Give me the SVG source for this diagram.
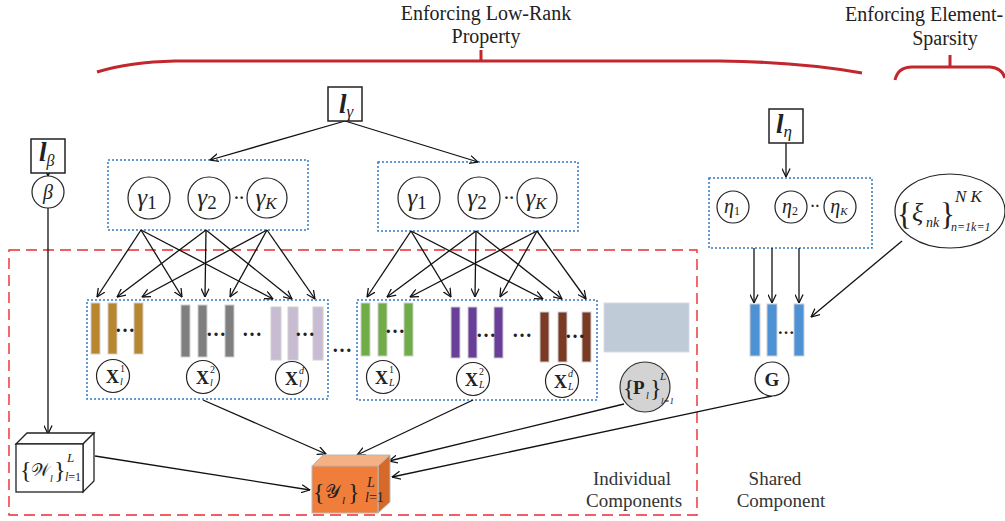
<svg xmlns="http://www.w3.org/2000/svg" width="1005" height="521" viewBox="0 0 1005 521">
<defs>
<marker id="arr" viewBox="0 0 10 10" refX="9.5" refY="5" markerWidth="9" markerHeight="9" markerUnits="userSpaceOnUse" orient="auto">
<path d="M0,0.5 L9.5,5 L0,9.5" fill="none" stroke="#111" stroke-width="1.4"/>
</marker>
<style>
text{font-family:"Liberation Serif","DejaVu Serif",serif;fill:#222}
.lbl{font-size:19px;fill:#333}
.box{fill:#fff;stroke:#222;stroke-width:1.5}
.circ{fill:#fff;stroke:#222;stroke-width:1.2}
.dot{fill:none;stroke:#2e7bc4;stroke-width:1.5;stroke-dasharray:2 2}
.red{fill:none;stroke:#ec2b2f;stroke-width:1.4;stroke-dasharray:11 6}
.brace{fill:none;stroke:#c1272d;stroke-width:3}
.e{fill:none;stroke:#111;stroke-width:1.3;marker-end:url(#arr)}
.bar{stroke:#d0d0d0;stroke-width:1}
.it{font-style:italic}
.b{font-weight:bold}
.ell{font-size:20px;font-weight:bold}
</style>
</defs>

<g id="low-rank-brace">
<path class="brace" d="M97,72 Q130,62 175,61 L720,61 Q800,62 862,73"/>
<line class="brace" x1="481" y1="50" x2="481" y2="61"/>
<text x="486" y="20" font-size="20" text-anchor="middle" fill="#333">Enforcing Low-Rank</text>
<text x="486" y="43" font-size="20" text-anchor="middle" fill="#333">Property</text>
</g>
<g id="sparsity-brace">
<path class="brace" d="M895,80 Q898,67 912,67 L990,67 Q1002,68 1005,78"/>
<line class="brace" x1="950" y1="55" x2="950" y2="67"/>
<text x="845" y="21" font-size="20" fill="#333">Enforcing Element-</text>
<text x="945" y="45" font-size="20" text-anchor="middle" fill="#333">Sparsity</text>
</g>

<rect class="red" x="9" y="250" width="688" height="265"/>
<rect class="dot" x="108" y="160" width="200" height="70"/>
<rect class="dot" x="378" y="162" width="200" height="69"/>
<rect class="dot" x="709" y="178" width="163" height="70"/>
<rect class="dot" x="87" y="300" width="241" height="99"/>
<rect class="dot" x="357" y="300" width="240" height="100"/>

<g id="connectors">
<line class="e" x1="345" y1="121" x2="210" y2="160"/>
<line class="e" x1="345" y1="121" x2="478" y2="162"/>
<line class="e" x1="48" y1="173" x2="48" y2="176"/>
<line class="e" x1="48" y1="208" x2="48" y2="434"/>
<line class="e" x1="786" y1="143" x2="786" y2="177"/>
<line class="e" x1="141" y1="230" x2="97" y2="297"/>
<line class="e" x1="141" y1="230" x2="182" y2="297"/>
<line class="e" x1="141" y1="230" x2="273" y2="299"/>
<line class="e" x1="206" y1="230" x2="117" y2="297"/>
<line class="e" x1="206" y1="230" x2="205" y2="297"/>
<line class="e" x1="206" y1="230" x2="292" y2="299"/>
<line class="e" x1="267" y1="230" x2="142" y2="297"/>
<line class="e" x1="267" y1="230" x2="230" y2="297"/>
<line class="e" x1="267" y1="230" x2="315" y2="299"/>
<line class="e" x1="411" y1="231" x2="367" y2="297"/>
<line class="e" x1="411" y1="231" x2="451" y2="297"/>
<line class="e" x1="411" y1="231" x2="543" y2="299"/>
<line class="e" x1="476" y1="231" x2="387" y2="297"/>
<line class="e" x1="476" y1="231" x2="475" y2="297"/>
<line class="e" x1="476" y1="231" x2="562" y2="299"/>
<line class="e" x1="537" y1="231" x2="410" y2="297"/>
<line class="e" x1="537" y1="231" x2="500" y2="297"/>
<line class="e" x1="537" y1="231" x2="586" y2="299"/>
<line class="e" x1="754" y1="248" x2="754" y2="303"/>
<line class="e" x1="772" y1="248" x2="772" y2="303"/>
<line class="e" x1="799" y1="248" x2="799" y2="303"/>
<line class="e" x1="902" y1="241" x2="811" y2="317"/>
<line class="e" x1="95" y1="456" x2="310" y2="490"/>
<line class="e" x1="203" y1="400" x2="326" y2="454"/>
<line class="e" x1="473" y1="400" x2="357" y2="455"/>
<line class="e" x1="624" y1="404" x2="389" y2="461"/>
<line class="e" x1="772" y1="396" x2="392" y2="477"/>
</g>

<g id="l-gamma">
<rect class="box" x="328" y="87" width="34" height="34"/>
<text x="339" y="113" font-size="27" class="it b">l<tspan font-size="17" font-weight="normal" dy="4">γ</tspan></text>
</g>
<g id="l-beta">
<rect class="box" x="31" y="139" width="34" height="34"/>
<text x="39" y="161" font-size="27" class="it b">l<tspan font-size="16" font-weight="normal" dy="5">β</tspan></text>
</g>
<g id="l-eta">
<rect class="box" x="769" y="109" width="34" height="34"/>
<text x="776" y="133" font-size="27" class="it b">l<tspan font-size="17" font-weight="normal" dy="4">η</tspan></text>
</g>

<g id="beta">
<circle class="circ" cx="48" cy="192" r="16"/>
<text x="48" y="199" font-size="20" class="it" text-anchor="middle">β</text>
</g>

<g id="gamma-left">
<circle class="circ" cx="149" cy="198" r="21"/>
<text x="147" y="206" font-size="25" class="it" text-anchor="middle">γ<tspan font-style="normal" font-size="19" dy="3">1</tspan></text>
<circle class="circ" cx="209" cy="198" r="21"/>
<text x="207" y="206" font-size="25" class="it" text-anchor="middle">γ<tspan font-style="normal" font-size="19" dy="3">2</tspan></text>
<text x="239" y="203" font-size="16" class="b" text-anchor="middle">··</text>
<circle class="circ" cx="267" cy="198" r="20"/>
<text x="266" y="206" font-size="25" class="it" text-anchor="middle">γ<tspan font-size="17" dy="3">K</tspan></text>
</g>
<g id="gamma-right">
<circle class="circ" cx="419" cy="198" r="21"/>
<text x="417" y="206" font-size="25" class="it" text-anchor="middle">γ<tspan font-style="normal" font-size="19" dy="3">1</tspan></text>
<circle class="circ" cx="479" cy="198" r="21"/>
<text x="477" y="206" font-size="25" class="it" text-anchor="middle">γ<tspan font-style="normal" font-size="19" dy="3">2</tspan></text>
<text x="509" y="203" font-size="16" class="b" text-anchor="middle">··</text>
<circle class="circ" cx="537" cy="198" r="20"/>
<text x="536" y="206" font-size="25" class="it" text-anchor="middle">γ<tspan font-size="17" dy="3">K</tspan></text>
</g>

<g id="eta">
<circle class="circ" cx="733" cy="207" r="16"/>
<text x="732" y="213" font-size="20" class="it" text-anchor="middle">η<tspan font-style="normal" font-size="12" dy="2">1</tspan></text>
<circle class="circ" cx="791" cy="207" r="16"/>
<text x="790" y="213" font-size="20" class="it" text-anchor="middle">η<tspan font-style="normal" font-size="12" dy="2">2</tspan></text>
<text x="815" y="211" font-size="14" class="b" text-anchor="middle">··</text>
<circle class="circ" cx="840" cy="207" r="16"/>
<text x="839" y="213" font-size="20" class="it" text-anchor="middle">η<tspan font-size="11" dy="2">K</tspan></text>
</g>

<g id="xi">
<ellipse class="circ" cx="950" cy="211" rx="55" ry="37"/>
<text x="897" y="225" font-size="31">{<tspan x="912" y="221" font-size="26" font-style="italic">ξ</tspan><tspan x="926" y="227" font-size="14" font-style="italic">nk</tspan><tspan x="940" y="225" font-size="31">}</tspan><tspan x="955" y="202" font-size="17" font-style="italic">N  K</tspan><tspan x="951" y="231" font-size="12" font-style="italic">n=1k=1</tspan></text>
</g>

<g id="X-left">
<rect class="bar" x="91" y="303" width="9" height="51" fill="#b8862e"/>
<rect class="bar" x="108" y="303" width="9" height="51" fill="#b8862e"/>
<rect class="bar" x="134" y="303" width="9" height="51" fill="#b8862e"/>
<text x="125" y="332" class="ell" text-anchor="middle">…</text>
<rect class="bar" x="181" y="305" width="9" height="52" fill="#7f7f7f"/>
<rect class="bar" x="198" y="305" width="9" height="52" fill="#7f7f7f"/>
<rect class="bar" x="225" y="305" width="9" height="52" fill="#7f7f7f"/>
<text x="216" y="336" class="ell" text-anchor="middle">…</text>
<text x="252" y="336" class="ell" text-anchor="middle">…</text>
<rect class="bar" x="271" y="307" width="10" height="53" fill="#c7bcd2"/>
<rect class="bar" x="288" y="307" width="10" height="53" fill="#c7bcd2"/>
<rect class="bar" x="313" y="307" width="10" height="53" fill="#c7bcd2"/>
<text x="305" y="336" class="ell" text-anchor="middle">…</text>
<circle class="circ" cx="113" cy="376" r="16.5"/>
<text x="106" y="383" font-size="18" class="b">X<tspan x="120" y="372" font-size="10" font-weight="normal">1</tspan><tspan x="120" y="385" font-size="10" font-weight="normal" font-style="italic">l</tspan></text>
<circle class="circ" cx="203" cy="377" r="16.5"/>
<text x="196" y="384" font-size="18" class="b">X<tspan x="210" y="373" font-size="10" font-weight="normal">2</tspan><tspan x="210" y="386" font-size="10" font-weight="normal" font-style="italic">l</tspan></text>
<circle class="circ" cx="292" cy="378" r="16.5"/>
<text x="285" y="385" font-size="18" class="b">X<tspan x="299" y="374" font-size="10" font-weight="normal" font-style="italic">d</tspan><tspan x="299" y="387" font-size="10" font-weight="normal" font-style="italic">l</tspan></text>
</g>

<text x="342" y="352" class="ell" text-anchor="middle">…</text>

<g id="X-right">
<rect class="bar" x="361" y="303" width="9" height="53" fill="#70ad47"/>
<rect class="bar" x="378" y="303" width="9" height="53" fill="#70ad47"/>
<rect class="bar" x="404" y="303" width="9" height="53" fill="#70ad47"/>
<text x="395" y="333" class="ell" text-anchor="middle">…</text>
<rect class="bar" x="451" y="307" width="9" height="51" fill="#6a3f9a"/>
<rect class="bar" x="468" y="307" width="9" height="51" fill="#6a3f9a"/>
<rect class="bar" x="494" y="307" width="9" height="51" fill="#6a3f9a"/>
<text x="486" y="337" class="ell" text-anchor="middle">…</text>
<text x="522" y="337" class="ell" text-anchor="middle">…</text>
<rect class="bar" x="540" y="312" width="9" height="50" fill="#7b3a24"/>
<rect class="bar" x="558" y="312" width="9" height="50" fill="#7b3a24"/>
<rect class="bar" x="582" y="312" width="9" height="50" fill="#7b3a24"/>
<text x="575" y="338" class="ell" text-anchor="middle">…</text>
<circle class="circ" cx="383" cy="377" r="16.5"/>
<text x="375" y="384" font-size="18" class="b">X<tspan x="389" y="373" font-size="10" font-weight="normal">1</tspan><tspan x="389" y="386" font-size="10" font-weight="normal" font-style="italic">L</tspan></text>
<circle class="circ" cx="473" cy="379" r="16.5"/>
<text x="465" y="386" font-size="18" class="b">X<tspan x="479" y="375" font-size="10" font-weight="normal">2</tspan><tspan x="479" y="388" font-size="10" font-weight="normal" font-style="italic">L</tspan></text>
<circle class="circ" cx="562" cy="381" r="16.5"/>
<text x="554" y="388" font-size="18" class="b">X<tspan x="568" y="377" font-size="10" font-weight="normal" font-style="italic">d</tspan><tspan x="568" y="390" font-size="10" font-weight="normal" font-style="italic">L</tspan></text>
</g>

<rect id="blue-block" x="604" y="303" width="85" height="49" fill="#bfccd8" stroke="#d4dbe3"/>

<g id="P">
<circle cx="645" cy="387" r="25" fill="#d3d3d3" stroke="#333" stroke-width="1.2"/>
<text x="623" y="396" font-size="24">{<tspan x="633" y="394" font-size="19" font-weight="bold">P</tspan><tspan x="646" y="399" font-size="10" font-style="italic">l</tspan><tspan x="650" y="396" font-size="24">}</tspan><tspan x="660" y="380" font-size="11" font-style="italic">L</tspan><tspan x="661" y="404" font-size="9" font-style="italic">l=1</tspan></text>
</g>

<g id="G">
<rect class="bar" x="750" y="304" width="10" height="52" fill="#4e92d6"/>
<rect class="bar" x="767" y="304" width="10" height="52" fill="#4e92d6"/>
<rect class="bar" x="794" y="304" width="10" height="52" fill="#4e92d6"/>
<text x="786" y="334" font-size="17" font-weight="bold" text-anchor="middle">…</text>
<circle class="circ" cx="772" cy="379" r="17"/>
<text x="772" y="386" font-size="19" class="b" text-anchor="middle">G</text>
</g>

<g id="W">
<polygon points="16,444 27,433 94,433 83,444" fill="#fff" stroke="#222" stroke-width="1.3"/>
<polygon points="83,444 94,433 94,481 83,492" fill="#fff" stroke="#222" stroke-width="1.3"/>
<rect x="16" y="444" width="67" height="48" fill="#fff" stroke="#222" stroke-width="1.3"/>
<text x="20" y="478" font-size="24">{<tspan x="31" y="476" font-size="18">𝒲</tspan><tspan x="50" y="482" font-size="10" font-style="italic">l</tspan><tspan x="54" y="478" font-size="24">}</tspan><tspan x="67" y="462" font-size="13" font-style="italic">L</tspan><tspan x="65" y="481" font-size="12" font-style="italic">l</tspan><tspan font-size="12">=1</tspan></text>
</g>

<g id="Y">
<polygon points="312,466 323,455 390,455 378,466" fill="#f4b183" stroke="#b8b8b8" stroke-width="1"/>
<polygon points="378,466 390,455 390,502 378,513" fill="#d4692a" stroke="#b8b8b8" stroke-width="1"/>
<rect x="312" y="466" width="66" height="47" fill="#f07e3a" stroke="#b8b8b8" stroke-width="1"/>
<text x="313" y="500" font-size="24">{<tspan x="325" y="498" font-size="19">𝒴</tspan><tspan x="342" y="504" font-size="11" font-style="italic">l</tspan><tspan x="348" y="500" font-size="24">}</tspan><tspan x="367" y="487" font-size="14" font-style="italic">L</tspan><tspan x="365" y="502" font-size="14" font-style="italic">l</tspan><tspan font-size="14">=1</tspan></text>
</g>

<text class="lbl" x="632" y="485" text-anchor="middle">Individual</text>
<text class="lbl" x="634" y="507" text-anchor="middle">Components</text>
<text class="lbl" x="775" y="485" text-anchor="middle">Shared</text>
<text class="lbl" x="781" y="507" text-anchor="middle">Component</text>
</svg>
